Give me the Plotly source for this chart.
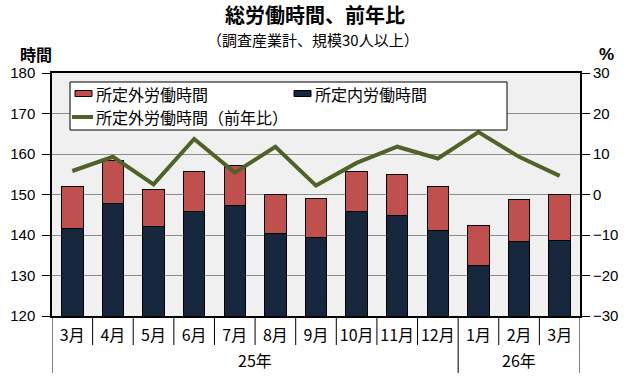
import plotly.graph_objects as go

months = ["3月", "4月", "5月", "6月", "7月", "8月", "9月", "10月", "11月", "12月", "1月", "2月", "3月"]
years = ["25年", "26年"]
year_spans = [(0, 9), (10, 12)]
scheduled = [141.7, 147.8, 142.2, 145.9, 147.3, 140.4, 139.4, 145.9, 144.7, 141.2, 132.5, 138.4, 138.7]
overtime = [10.4, 10.6, 9.1, 9.8, 9.9, 9.6, 9.6, 9.8, 10.3, 10.8, 9.9, 10.4, 11.3]
overtime_yoy = [5.8, 9.3, 2.5, 13.7, 5.4, 11.8, 2.2, 7.8, 11.8, 8.9, 15.4, 9.3, 4.6]

names = ["所定外労働時間", "所定内労働時間", "所定外労働時間（前年比）"]
RED, NAVY, GREEN = "#C0504D", "#15263D", "#4F6228"

xs = list(range(len(months)))
JP = "Noto Sans CJK JP"
NUM = "Liberation Sans"

# page-pixel helpers (plot area spans x 52..580, y 73..316)
W, H = 630, 380
X0, X1, Y0, Y1 = 52, 580, 73, 316
def px(x):
    return (x - X0) / (X1 - X0)
def py(y):
    return (Y1 - y) / (Y1 - Y0)

fig = go.Figure()
fig.add_trace(go.Bar(x=xs, y=scheduled, name=names[1], marker=dict(color=NAVY, line=dict(color="black", width=1)),
                     width=0.53, showlegend=False))
fig.add_trace(go.Bar(x=xs, y=overtime, name=names[0], marker=dict(color=RED, line=dict(color="black", width=1)),
                     width=0.53, showlegend=False))
fig.add_trace(go.Scatter(x=xs, y=overtime_yoy, name=names[2], yaxis="y2", mode="lines",
                         line=dict(color=GREEN, width=4), showlegend=False))

shapes = []
year_edges = {-0.5, 9.5, 12.5}
for i in range(len(months) + 1):
    xv = i - 0.5
    y1 = py(373) if xv in year_edges else py(345)
    shapes.append(dict(type="line", xref="x", yref="paper", x0=xv, x1=xv, y0=0, y1=y1,
                       line=dict(color="black", width=1)))

# legend box (drawn)
shapes.append(dict(type="rect", xref="paper", yref="paper", x0=px(70), x1=px(507), y0=py(130), y1=py(82),
                   fillcolor="white", line=dict(color="black", width=1), layer="above"))
shapes.append(dict(type="rect", xref="paper", yref="paper", x0=px(75), x1=px(92), y0=py(96.5), y1=py(90.5),
                   fillcolor=RED, line=dict(color="black", width=1), layer="above"))
shapes.append(dict(type="rect", xref="paper", yref="paper", x0=px(294), x1=px(311), y0=py(96.5), y1=py(90.5),
                   fillcolor=NAVY, line=dict(color="black", width=1), layer="above"))
shapes.append(dict(type="line", xref="paper", yref="paper", x0=px(72), x1=px(93), y0=py(117), y1=py(117),
                   line=dict(color=GREEN, width=4), layer="above"))

annotations = [
    dict(text="<b>総労働時間、前年比</b>", x=px(315), y=py(14), xref="paper", yref="paper", showarrow=False,
         xanchor="center", yanchor="middle", font=dict(family=JP, size=20, color="black")),
    dict(text="（調査産業計、規模30人以上）", x=px(313), y=py(39.5), xref="paper", yref="paper", showarrow=False,
         xanchor="center", yanchor="middle", font=dict(family=JP, size=15, color="black")),
    dict(text="<b>時間</b>", x=px(36), y=py(54), xref="paper", yref="paper", showarrow=False,
         xanchor="center", yanchor="middle", font=dict(family=JP, size=16, color="black")),
    dict(text="<b>%</b>", x=px(606), y=py(54), xref="paper", yref="paper", showarrow=False,
         xanchor="center", yanchor="middle", font=dict(family=NUM, size=17, color="black")),
    dict(text=names[0], x=px(94), y=py(94), xref="paper", yref="paper", showarrow=False,
         xanchor="left", yanchor="middle", font=dict(family=JP, size=16, color="black")),
    dict(text=names[1], x=px(313), y=py(94), xref="paper", yref="paper", showarrow=False,
         xanchor="left", yanchor="middle", font=dict(family=JP, size=16, color="black")),
    dict(text=names[2], x=px(94), y=py(117), xref="paper", yref="paper", showarrow=False,
         xanchor="left", yanchor="middle", font=dict(family=JP, size=16, color="black")),
]
for name, (a, b) in zip(years, year_spans):
    annotations.append(dict(text=name, x=(a + b) / 2, y=py(360), xref="x", yref="paper", showarrow=False,
                            xanchor="center", yanchor="middle", font=dict(family=JP, size=16, color="black")))

fig.update_layout(
    width=W, height=H,
    margin=dict(l=X0, r=W - X1, t=Y0, b=H - Y1, autoexpand=False),
    barmode="stack",
    paper_bgcolor="white",
    plot_bgcolor="#F1F0F0",
    showlegend=False,
    hovermode=False,
    xaxis=dict(range=[-0.5, 12.5], tickvals=xs, ticktext=months, ticks="", showgrid=False,
               showline=True, linecolor="black", linewidth=1.5, mirror=True, zeroline=False,
               ticklabelstandoff=4, tickfont=dict(family=JP, size=16, color="black")),
    yaxis=dict(range=[120, 180], dtick=10, ticks="outside", ticklen=8, tickcolor="black",
               showline=True, linecolor="black", linewidth=1.5, showgrid=True, gridcolor="#8C8C8C",
               gridwidth=1, zeroline=False, ticklabelstandoff=4,
               tickfont=dict(family=NUM, size=15, color="black")),
    yaxis2=dict(range=[-30, 30], dtick=10, overlaying="y", side="right", ticks="outside", ticklen=8,
                tickcolor="black", showline=True, linecolor="black", linewidth=2, showgrid=False,
                zeroline=False, tickfont=dict(family=NUM, size=15, color="black")),
    shapes=shapes,
    annotations=annotations,
)

# remove the browser's default 8px body margin so the figure sits at the page origin
fig.write_html("out.html", config={"displayModeBar": False},
               post_script="document.body.style.margin='0px';")
